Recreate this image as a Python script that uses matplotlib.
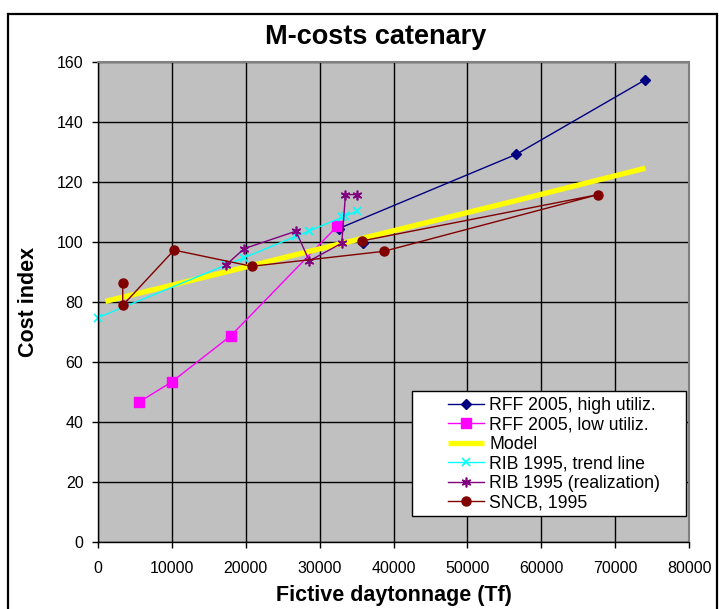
#!/usr/bin/env python3
"""M-costs catenary: cost index against fictive daytonnage."""
import matplotlib
matplotlib.use("Agg")
import matplotlib.pyplot as plt
from matplotlib.patches import Rectangle

plt.rcParams["font.family"] = ["Liberation Sans", "DejaVu Sans"]

nan = float("nan")

# series (nan = gap, the first point stands alone)
rff_high_x = [35900, nan, 32600, 56600, 74100]
rff_high_y = [99.7, nan, 104.5, 129.2, 154.1]

rff_low_x = [5600, 10000, 18000, 32400]
rff_low_y = [46.7, 53.4, 68.8, 105.3]

model_x = [1000, 10000, 56600, 74100]
model_y = [80.2, 85.6, 113.8, 124.6]

rib_trend_x = [0, 17300, 19800, 26800, 28600, 33000, 33500, 35100]
rib_trend_y = [74.8, 92.3, 94.8, 101.9, 103.7, 108.2, 108.7, 110.4]

rib_real_x = [17300, 19800, 26800, 28600, 33000, 33500, 35100]
rib_real_y = [92.3, 97.8, 103.6, 93.7, 99.6, 115.8, 115.8]

sncb_x = [3350, 3350, 10300, 20800, 38700, 67700, 35800]
sncb_y = [86.4, 78.9, 97.3, 91.9, 96.9, 115.8, 100.4]

x_ticks = list(range(0, 80001, 10000))
y_ticks = list(range(0, 161, 20))

W, H = 719, 609
fig = plt.figure(figsize=(W / 100, H / 100), dpi=100)
fig.patch.set_facecolor("white")
# outer chart border
fig.add_artist(Rectangle((8 / W, -0.01), 709 / W, 1 - 14 / H + 0.01,
                         transform=fig.transFigure, fill=False,
                         edgecolor="black", lw=1.6))

ax = fig.add_axes([98 / W, 67 / H, 591 / W, 480 / H])
ax.set_facecolor("#C0C0C0")

ax.plot(rff_high_x, rff_high_y, color="#000080", lw=1.0, marker="D", ms=5.5,
        label="RFF 2005, high utiliz.")
ax.plot(rff_low_x, rff_low_y, color="#FF00FF", lw=1.0, marker="s", ms=7,
        label="RFF 2005, low utiliz.")
ax.plot(model_x, model_y, color="#FFFF00", lw=3.8, solid_capstyle="butt",
        label="Model")
ax.plot(rib_trend_x, rib_trend_y, color="#00FFFF", lw=1.0, marker="x", ms=6,
        mew=1.2, label="RIB 1995, trend line", clip_on=False)
ax.plot(rib_real_x, rib_real_y, color="#800080", lw=1.0, marker=(6, 2, 0),
        ms=7, mew=1.2, label="RIB 1995 (realization)")
ax.plot(sncb_x, sncb_y, color="#800000", lw=1.0, marker="o", ms=6.5,
        label="SNCB, 1995")

ax.set_xlim(0, 80000)
ax.set_ylim(0, 160)
ax.set_xticks(x_ticks)
ax.set_yticks(y_ticks)
ax.grid(True, color="black", lw=1.0)
ax.set_axisbelow(True)
ax.tick_params(axis="both", direction="out", length=4.5, width=1.0,
               colors="black", labelsize=11.5)
ax.tick_params(axis="x", pad=9)
ax.tick_params(axis="y", pad=6)
for side in ("top", "right"):
    ax.spines[side].set_color("#808080")
    ax.spines[side].set_linewidth(1.5)
for side in ("left", "bottom"):
    ax.spines[side].set_color("black")
    ax.spines[side].set_linewidth(1.0)

ax.set_xlabel("Fictive daytonnage (Tf)", fontsize=15.5, fontweight="bold",
              labelpad=7)
ax.set_ylabel("Cost index", fontsize=15.5, fontweight="bold", labelpad=13)
fig.text(376 / W, 1 - 37 / H, "M-costs catenary", fontsize=19.5,
         fontweight="bold", ha="center", va="center")

# legend: white box with black frame, content drawn by matplotlib
ax.add_patch(Rectangle((0.531, 0.054), 0.464, 0.261, transform=ax.transAxes,
                       facecolor="white", edgecolor="black", lw=1.0, zorder=5))
leg = ax.legend(loc="upper left", bbox_to_anchor=(0.592, 0.302),
                frameon=False, fontsize=12.7, handlelength=2.05,
                handletextpad=0.3, labelspacing=0.14, borderpad=0,
                borderaxespad=0)
leg.set_zorder(6)

fig.savefig("out.png", dpi=100)
